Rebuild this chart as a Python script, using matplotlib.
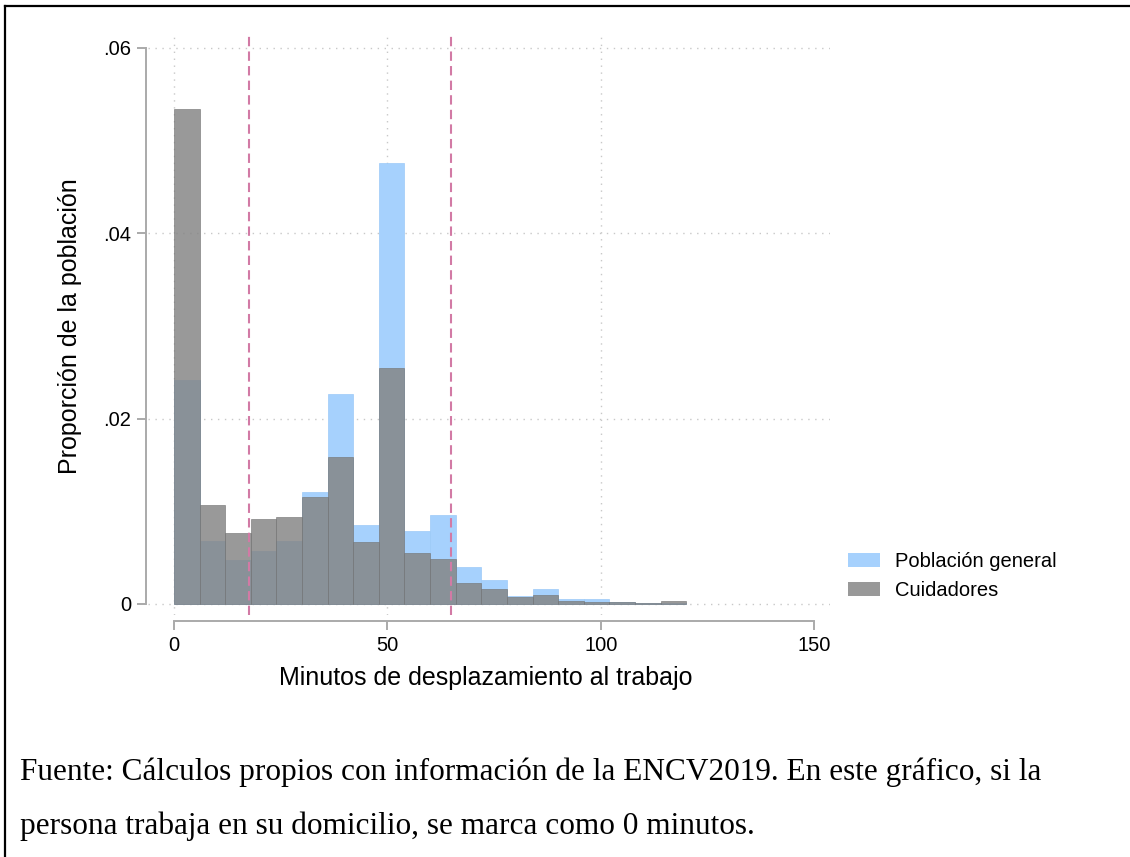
import matplotlib
matplotlib.use("Agg")
from matplotlib import pyplot as plt
from matplotlib.patches import Patch
from matplotlib.lines import Line2D

# bins de 6 minutos (inicio de cada bin)
bin_start = list(range(0, 120, 6))
bin_width = 6

# densidad por minuto
poblacion_general = [0.0242, 0.0068, 0.0047, 0.0057, 0.0068, 0.0121, 0.0226, 0.0085,
                     0.0476, 0.0079, 0.0096, 0.0040, 0.0026, 0.0008, 0.0016, 0.0005,
                     0.0005, 0.0002, 0.0001, 0.0001]
cuidadores = [0.0534, 0.0107, 0.0077, 0.0092, 0.0094, 0.0115, 0.0158, 0.0067,
              0.0254, 0.0055, 0.0048, 0.0023, 0.0016, 0.0007, 0.0010, 0.0003,
              0.0002, 0.00025, 0.00005, 0.00036]

# lineas de referencia (minutos)
ref_lines = [17.6, 64.9]

xticks = [0, 50, 100, 150]
yticks = [0, 0.02, 0.04, 0.06]
ytick_labels = ['0', '.02', '.04', '.06']

W, H = 1130, 857
fig = plt.figure(figsize=(W / 100, H / 100), dpi=100)
plt.rcParams['font.family'] = ['Liberation Sans', 'DejaVu Sans']

ax = fig.add_axes([148 / W, 1 - 615 / H, (830 - 148) / W, (615 - 33) / H])

blue = '#a6d1fd'
gray = '#848484'

ax.bar(bin_start, poblacion_general, width=bin_width, align='edge',
       color=blue, edgecolor='#9ccaf8', linewidth=0.5, zorder=2)
ax.bar(bin_start, cuidadores, width=bin_width, align='edge',
       color=gray, alpha=0.83, edgecolor='#737373', linewidth=0.5, zorder=3)

for x in ref_lines:
    ax.axvline(x, color='#d27aa5', linewidth=1.5, linestyle=(0, (4.5, 2.5)), zorder=4)

# grilla punteada
grid_col = '#c8c8c8'
for y in yticks:
    ax.axhline(y, color=grid_col, linewidth=1, linestyle=(0, (1, 4)), zorder=1)
for x in xticks[:-1]:
    ax.axvline(x, color=grid_col, linewidth=1, linestyle=(0, (1, 4)), zorder=1)

ax.set_xlim(-6.1, 153.7)
ax.set_ylim(-0.0012, 0.0616)

spine_col = '#aaaaaa'
for s in ['top', 'right']:
    ax.spines[s].set_visible(False)
ax.spines['left'].set_position(('outward', 1.5))
ax.spines['left'].set_bounds(0, 0.06)
ax.spines['bottom'].set_position(('outward', 4.3))
ax.spines['bottom'].set_bounds(0, 150)
for s in ['left', 'bottom']:
    ax.spines[s].set_color(spine_col)
    ax.spines[s].set_linewidth(1.4)

ax.set_xticks(xticks)
ax.set_yticks(yticks)
ax.set_yticklabels(ytick_labels)
ax.tick_params(axis='both', colors=spine_col, labelcolor='black', labelsize=14.5,
               length=6.5, width=1.4, pad=4)

fig.text(486 / W, 1 - 678 / H, 'Minutos de desplazamiento al trabajo',
         ha='center', va='center', fontsize=18)
fig.text(70 / W, 1 - 326 / H, 'Proporción de la población',
         ha='center', va='center', rotation=90, fontsize=18)

handles = [Patch(facecolor=blue, edgecolor='none'),
           Patch(facecolor=gray, alpha=0.83, edgecolor='none')]
fig.legend(handles, ['Población general', 'Cuidadores'],
           loc='center left', bbox_to_anchor=(848 / W, 1 - 576 / H),
           frameon=False, fontsize=14.5, handlelength=1.6, handleheight=0.75,
           handletextpad=0.75, labelspacing=0.5, borderpad=0, borderaxespad=0)

cap = dict(family=['Liberation Serif', 'DejaVu Serif'], fontsize=22.5,
           ha='left', va='center')
fig.text(20 / W, 1 - 772 / H,
         'Fuente: Cálculos propios con información de la ENCV2019. En este gráfico, si la', **cap)
fig.text(20 / W, 1 - 826 / H,
         'persona trabaja en su domicilio, se marca como 0 minutos.', **cap)

# marco (solo arriba e izquierda visibles)
fig.add_artist(Line2D([5 / W, 1], [1 - 6 / H, 1 - 6 / H], transform=fig.transFigure,
                      color='black', linewidth=1.6))
fig.add_artist(Line2D([5 / W, 5 / W], [0, 1 - 6 / H], transform=fig.transFigure,
                      color='black', linewidth=1.6))

fig.savefig('out.png', dpi=100)
